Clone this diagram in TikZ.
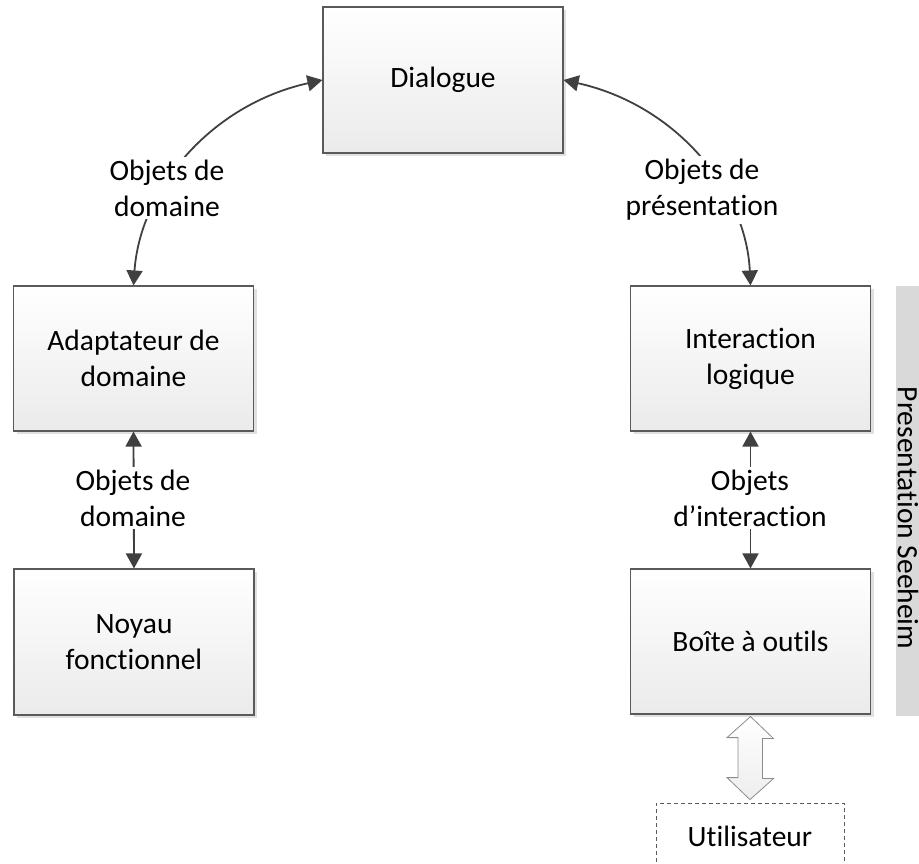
\documentclass[tikz,border=0pt]{standalone}
\usepackage{fontspec}
\setmainfont{Carlito}[Ligatures=NoCommon,RawFeature={-liga;-clig;-dlig}]
\usetikzlibrary{arrows.meta,shadows,calc}
\definecolor{edgecol}{HTML}{404040}
\definecolor{boxline}{HTML}{5A5A5A}
\definecolor{barfill}{HTML}{D9D9D9}
\begin{document}
\begin{tikzpicture}[x=1pt,y=-1pt,
  txt/.style={font=\fontsize{29.5}{36}\selectfont},
  box/.style={txt, draw=boxline, line width=1.1pt, top color=white, bottom color=black!8,
    minimum width=240pt, minimum height=146pt, align=center, inner sep=2pt,
    drop shadow={shadow xshift=3pt, shadow yshift=-3pt, fill=black!12, opacity=1}},
  lab/.style={txt, fill=white, align=center, inner sep=3pt},
  conn/.style={draw=edgecol, line width=1.8pt,
    {Triangle[length=15pt,width=16pt]}-{Triangle[length=15pt,width=16pt]}}
]
\useasboundingbox (0,0) rectangle (919,864);
% boxes
\node[box] (dial) at (443,80) {Dialogue};
\node[box, minimum height=145pt] (adapt) at (133.5,358.5) {Adaptateur de\\domaine};
\node[box, minimum height=145pt] (inter) at (750.5,358.5) {Interaction\\logique};
\node[box] (noyau) at (134,642) {Noyau\\fonctionnel};
\node[box, minimum height=145pt] (boite) at (750.5,641.5) {Boîte à outils};
\node[txt, draw=boxline, line width=0.8pt, dash pattern=on 4pt off 3pt, fill=white,
  minimum width=188pt, minimum height=66pt] (user) at (750,836) {Utilisateur};
% side bar
\node[fill=barfill, minimum width=40pt, minimum height=430pt, inner sep=0pt, anchor=north west] (bar) at (896,286) {};
\node[txt, rotate=-90, inner sep=0pt] (bartxt) at (908,518) {Presentation Seeheim};
% connectors
\draw[conn] (adapt.north) .. controls (140,190) and (210,105) .. (dial.west);
\draw[conn] (dial.east) .. controls (676,105) and (746,190) .. (inter.north);
\draw[conn] (adapt.south) -- (noyau.north);
\draw[conn] (inter.south) -- (boite.north);
% labels
\node[lab] (l1) at (167,188) {Objets de\\domaine};
\node[lab] (l2) at (702,190) {Objets de\\présentation};
\node[lab] (l3) at (133,498) {Objets de\\domaine};
\node[lab] (l4) at (750,498) {Objets\\d’interaction};
% hollow double arrow
\coordinate (at) at ($(boite.south)+(0,2)$);
\coordinate (ab) at ($(user.north)+(0,-3)$);
\draw[draw=black!45, line width=0.8pt, top color=white, bottom color=black!7]
  (at) -- ++(23,22) -- ++(-11,0) -- ++(0,40) -- ++(11,0) -- (ab)
  -- ++(-23,-22) -- ++(11,0) -- ++(0,-40) -- ++(-11,0) -- cycle;
\end{tikzpicture}
\end{document}
